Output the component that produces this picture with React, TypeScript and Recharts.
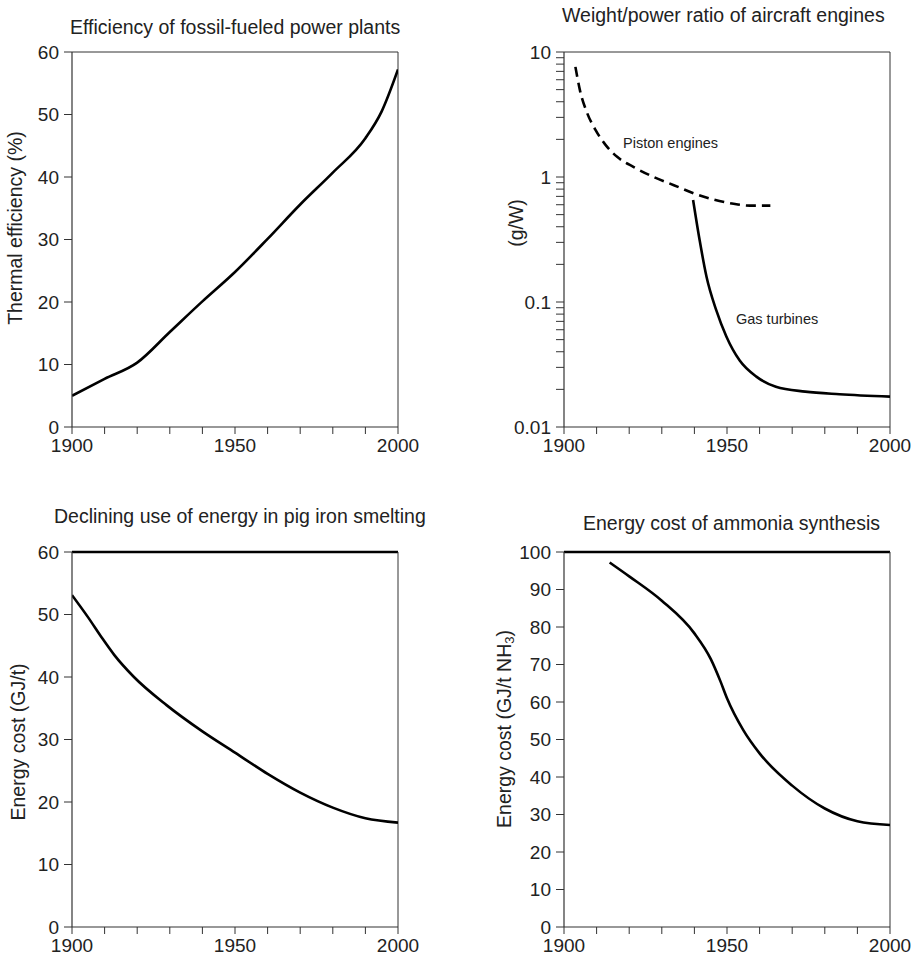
import React from "react";
import { LineChart, Line, XAxis, YAxis, ReferenceLine } from "recharts";

const FONT = '"Liberation Sans", Arial, sans-serif';
const INK = "#222";
const AXIS = "#333";

// shared x axis
const yearTicks = [1900, 1910, 1920, 1930, 1940, 1950, 1960, 1970, 1980, 1990, 2000];
const yearLabels = [1900, 1950, 2000];

// panel 1: efficiency of fossil-fueled power plants
const effYears = [1900, 1910, 1920, 1930, 1940, 1950, 1960, 1970, 1980, 1990, 1995, 2000];
const effValues = [5, 7.7, 10.3, 15.2, 20.1, 24.8, 30.1, 35.6, 40.7, 46.2, 50.5, 57.2];
const effTicks = [0, 10, 20, 30, 40, 50, 60];

// panel 2: weight/power ratio of aircraft engines
const pistonYears = [1903.5, 1905, 1907, 1909.7, 1912.8, 1916.3, 1921.4, 1927.5, 1933.7, 1939.8, 1945.9, 1952, 1957, 1963.3];
const pistonValues = [7.6, 4.8, 3.3, 2.37, 1.8, 1.45, 1.2, 1.0, 0.86, 0.74, 0.66, 0.61, 0.59, 0.59];
const turbineYears = [1939.6, 1941.6, 1943.7, 1946.7, 1949.8, 1953.9, 1959, 1965, 1974, 1984.5, 2000];
const turbineValues = [0.655, 0.313, 0.16, 0.086, 0.053, 0.034, 0.0253, 0.021, 0.0192, 0.0183, 0.0175];
const logMajor = [0.01, 0.1, 1, 10];
const logTicks = [
  0.01, 0.02, 0.03, 0.04, 0.05, 0.06, 0.07, 0.08, 0.09,
  0.1, 0.2, 0.3, 0.4, 0.5, 0.6, 0.7, 0.8, 0.9,
  1, 2, 3, 4, 5, 6, 7, 8, 9, 10,
];

// panel 3: pig iron smelting
const ironYears = [1900, 1905, 1909, 1913, 1919, 1929, 1940, 1950, 1960, 1970, 1980, 1990, 2000];
const ironValues = [53.1, 49.5, 46.4, 43.5, 40.0, 35.5, 31.3, 27.9, 24.5, 21.5, 19.1, 17.4, 16.7];
const ironTicks = [0, 10, 20, 30, 40, 50, 60];

// panel 4: ammonia synthesis
const nh3Years = [1914, 1920, 1930, 1940, 1945, 1948, 1950, 1955, 1960, 1970, 1980, 1990, 2000];
const nh3Values = [97.2, 93.5, 87, 78.3, 71.5, 65.5, 61, 52.5, 46.3, 37.7, 31.6, 28.2, 27.2];
const nh3Ticks = [0, 10, 20, 30, 40, 50, 60, 70, 80, 90, 100];

const zip = (xs, ys) => xs.map((year, i) => ({ year, v: ys[i] }));

const PLOT_W = 326;
const PLOT_H = 375;
const Y_W = 72;
const M_TOP = 12;
const M_RIGHT = 22;
const X_H = 33;

const tickStyle = { fill: INK, fontSize: 19, fontFamily: FONT };

const rotatedLabel = (x, y, content) => () => (
  <text
    x={x}
    y={y}
    transform={`rotate(-90 ${x} ${y})`}
    textAnchor="middle"
    dominantBaseline="central"
    fill={INK}
    fontSize={19.5}
    fontFamily={FONT}
  >
    {content}
  </text>
);

function Panel({ left, top, yDomain, yTicks, yFormat, log, topStroke, yLabel, series }) {
  return (
    <div style={{ position: "absolute", left: left - Y_W, top: top - M_TOP }}>
      <LineChart
        width={Y_W + PLOT_W + M_RIGHT}
        height={M_TOP + PLOT_H + X_H}
        margin={{ top: M_TOP, right: M_RIGHT, left: 0, bottom: 0 }}
      >
        <XAxis
          dataKey="year"
          type="number"
          domain={[1900, 2000]}
          ticks={yearTicks}
          interval={0}
          tickFormatter={(t) => (yearLabels.includes(t) ? String(t) : "")}
          height={X_H}
          tickSize={7}
          tickMargin={5}
          tick={tickStyle}
          axisLine={{ stroke: AXIS, strokeWidth: 1.2 }}
          tickLine={{ stroke: AXIS }}
          allowDataOverflow
        />
        <YAxis
          type="number"
          scale={log ? "log" : "auto"}
          domain={yDomain}
          ticks={yTicks}
          interval={0}
          tickFormatter={yFormat}
          width={Y_W}
          tickSize={8}
          tickMargin={5}
          tick={tickStyle}
          axisLine={{ stroke: AXIS, strokeWidth: 1.2 }}
          tickLine={{ stroke: AXIS }}
          allowDataOverflow
          label={{ content: yLabel }}
        />
        <ReferenceLine y={yDomain[1]} stroke={topStroke.color} strokeWidth={topStroke.width} />
        <ReferenceLine x={2000} stroke={AXIS} strokeWidth={1} />
        {series.map((s) => (
          <Line
            key={s.key}
            data={s.data}
            dataKey="v"
            type="monotone"
            stroke="#000"
            strokeWidth={2.6}
            strokeDasharray={s.dash}
            dot={false}
            activeDot={false}
            isAnimationActive={false}
          />
        ))}
      </LineChart>
    </div>
  );
}

const Title = ({ left, top, children }) => (
  <div
    style={{
      position: "absolute",
      left,
      top,
      fontSize: 19.5,
      lineHeight: "22px",
      fontFamily: FONT,
      color: INK,
      whiteSpace: "nowrap",
    }}
  >
    {children}
  </div>
);

const Note = ({ left, top, children }) => (
  <div
    style={{
      position: "absolute",
      left,
      top,
      fontSize: 14.5,
      lineHeight: "18px",
      fontFamily: FONT,
      color: INK,
      whiteSpace: "nowrap",
    }}
  >
    {children}
  </div>
);

export default function App() {
  const thin = { color: AXIS, width: 1 };
  const thick = { color: "#000", width: 2.5 };
  const plain = (t) => String(t);

  return (
    <div style={{ position: "absolute", left: 0, top: 0, width: 920, height: 960, background: "#fff" }}>
      <Title left={70} top={16}>Efficiency of fossil-fueled power plants</Title>
      <Panel
        left={72}
        top={52}
        yDomain={[0, 60]}
        yTicks={effTicks}
        yFormat={plain}
        topStroke={thin}
        yLabel={rotatedLabel(15, 188, "Thermal efficiency (%)")}
        series={[{ key: "eff", data: zip(effYears, effValues) }]}
      />

      <Title left={562} top={4}>Weight/power ratio of aircraft engines</Title>
      <Panel
        left={564}
        top={52}
        log
        yDomain={[0.01, 10]}
        yTicks={logTicks}
        yFormat={(t) => (logMajor.includes(t) ? String(t) : "")}
        topStroke={thin}
        yLabel={rotatedLabel(24, 183, "(g/W)")}
        series={[
          { key: "piston", data: zip(pistonYears, pistonValues), dash: "10 6" },
          { key: "turbine", data: zip(turbineYears, turbineValues) },
        ]}
      />
      <Note left={623} top={134}>Piston engines</Note>
      <Note left={736} top={310}>Gas turbines</Note>

      <Title left={54} top={505}>Declining use of energy in pig iron smelting</Title>
      <Panel
        left={72}
        top={552}
        yDomain={[0, 60]}
        yTicks={ironTicks}
        yFormat={plain}
        topStroke={thick}
        yLabel={rotatedLabel(18, 202, "Energy cost (GJ/t)")}
        series={[{ key: "iron", data: zip(ironYears, ironValues) }]}
      />

      <Title left={583} top={512}>Energy cost of ammonia synthesis</Title>
      <Panel
        left={564}
        top={552}
        yDomain={[0, 100]}
        yTicks={nh3Ticks}
        yFormat={plain}
        topStroke={thick}
        yLabel={() => (
          <text
            x={12}
            y={189}
            transform="rotate(-90 12 189)"
            textAnchor="middle"
            dominantBaseline="central"
            fill={INK}
            fontSize={19.5}
            fontFamily={FONT}
          >
            Energy cost (GJ/t NH
            <tspan fontSize={13} dy={5}>3</tspan>
            <tspan dy={-5}>)</tspan>
          </text>
        )}
        series={[{ key: "nh3", data: zip(nh3Years, nh3Values) }]}
      />
    </div>
  );
}
